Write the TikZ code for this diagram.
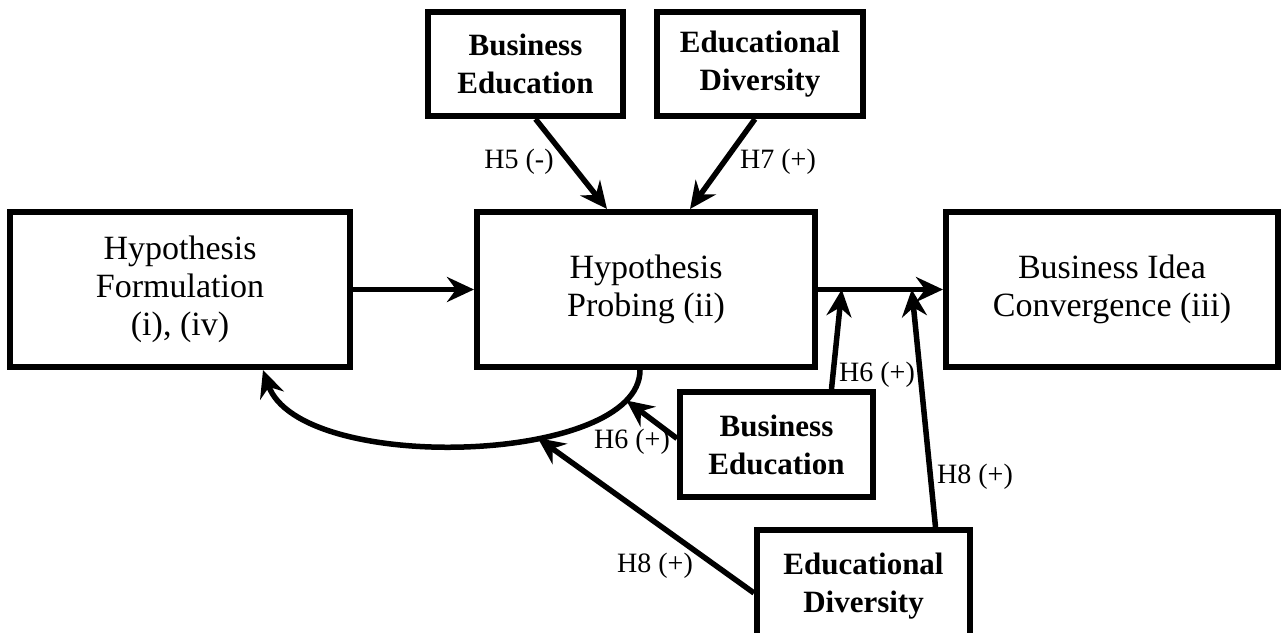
\documentclass[tikz,border=0pt]{standalone}
\usepackage{fontspec}
\setmainfont{Liberation Serif}
\usetikzlibrary{arrows.meta,calc}
\tikzset{
  bigbox/.style={draw, line width=6pt, inner sep=0pt, align=center,
    font=\fontsize{34}{38}\selectfont},
  modbox/.style={draw, line width=6pt, inner sep=0pt, align=center,
    font=\bfseries\fontsize{31}{38}\selectfont},
  conn/.style={line width=5.5pt, -{Stealth[length=27pt,width=25pt,inset=9pt]}},
  lab/.style={font=\fontsize{28}{30}\selectfont, inner sep=0pt}
}
\begin{document}
\begin{tikzpicture}[x=1pt,y=-1pt]
\useasboundingbox (0,0) rectangle (1282,632);
\clip (0,0) rectangle (1282,632);
\node[bigbox, minimum width=340pt, minimum height=155pt] (hf) at (180,289.5) {Hypothesis\\Formulation\\(i), (iv)};
\node[bigbox, minimum width=338pt, minimum height=155pt] (hp) at (646,289.5) {Hypothesis\\Probing (ii)};
\node[bigbox, minimum width=332pt, minimum height=155pt] (bc) at (1112,289.5) {Business Idea\\Convergence (iii)};
\node[modbox, minimum width=195pt, minimum height=104pt] (be1) at (525.5,64) {Business\\Education};
\node[modbox, minimum width=206pt, minimum height=104pt] (ed1) at (760,64) {Educational\\Diversity};
\node[modbox, minimum width=193pt, minimum height=105pt] (be2) at (776.5,444.5) {Business\\Education};
\node[modbox, minimum width=213pt, minimum height=112pt] (ed2) at (863.5,586) {Educational\\Diversity};

\draw[conn] (hf.east) -- (hp.west);
\draw[conn] (hp.east) -- (bc.west);
\coordinate (m1) at ($(hp.east)!0.19!(bc.west)$);
\coordinate (m2) at ($(hp.east)!0.75!(bc.west)$);

\draw[conn]
  ([xshift=-6pt]hp.south) .. controls +(0,95) and (300,475) .. ([xshift=83pt]hf.south)
  coordinate[pos=0.12] (c1) coordinate[pos=0.36] (c2);

\draw[conn] ([xshift=10pt]be1.south) -- ([xshift=-39pt]hp.north);
\draw[conn] ([xshift=-5pt]ed1.south) -- ([xshift=44pt]hp.north);
\draw[conn] ([xshift=55pt]be2.north) -- (m1);
\draw[conn] ([xshift=72pt]ed2.north) -- (m2);
\draw[conn] ([yshift=6pt]be2.west) -- (c1);
\draw[conn] ([yshift=-7pt]ed2.west) -- (c2);

\node[lab] (l5) at (519,162) {H5 (-)};
\node[lab] (l7) at (778,162) {H7 (+)};
\node[lab] (l6a) at (877,375) {H6 (+)};
\node[lab] (l8a) at (975,477) {H8 (+)};
\node[lab] (l6b) at (632,442) {H6 (+)};
\node[lab] (l8b) at (655,566) {H8 (+)};
\end{tikzpicture}
\end{document}
